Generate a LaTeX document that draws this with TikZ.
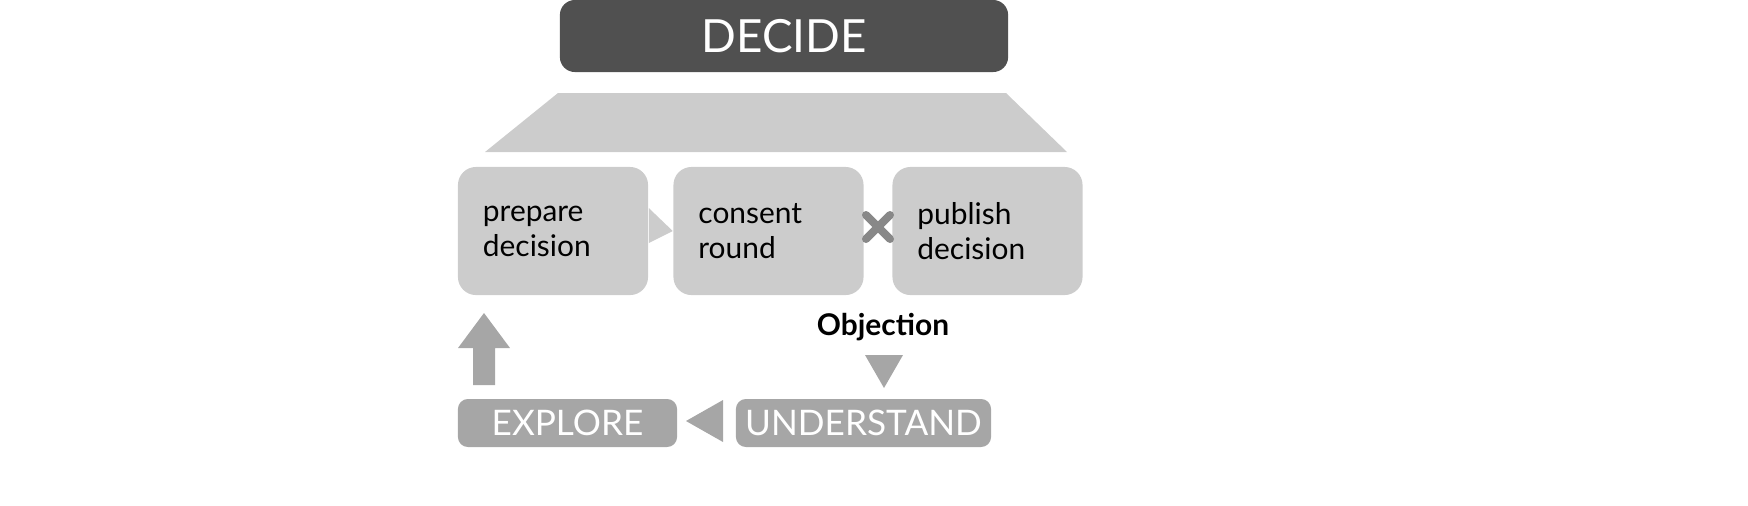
\documentclass[tikz,border=0pt]{standalone}
\usepackage{fontspec}
\setmainfont{Lato}
\usetikzlibrary{positioning}
\definecolor{darkbox}{HTML}{505050}
\definecolor{lightbox}{HTML}{CCCCCC}
\definecolor{midbox}{HTML}{A6A6A6}
\definecolor{crossgray}{HTML}{888888}
\tikzset{
  stepbox/.style={fill=lightbox, rounded corners=0.18cm, minimum width=1.9cm, minimum height=1.28cm,
    align=left, text width=1.4cm, inner sep=0pt, font=\fontsize{8.5}{10}\selectfont},
  phase/.style={fill=midbox, rounded corners=0.1cm, minimum height=0.48cm, inner sep=0pt, text=white,
    font=\fontsize{10}{12}\selectfont},
  pointer/.style={fill=midbox}
}
\begin{document}
\begin{tikzpicture}[x=0.01cm,y=-0.01cm]
\useasboundingbox (0,0) rectangle (1748,505);
% top
\node[fill=darkbox, rounded corners=0.15cm, minimum width=4.48cm, minimum height=0.72cm, inner sep=0pt,
  text=white, font=\fontsize{13}{15}\selectfont] (decide) at (784,36) {DECIDE};
\fill[lightbox] (558,93) -- (1006,93) -- (1067,152) -- (485,152) -- cycle;
% steps
\node[stepbox] (prepare) at (553,231) {prepare\\decision};
\node[stepbox] (consent) at (768.5,231) {consent\\round};
\node[stepbox] (publish) at (987.5,231) {\raisebox{-3pt}{\parbox{1.4cm}{publish\\decision}}};
\fill[lightbox] (prepare.east |- 0,208) -- (consent.west) -- (prepare.east |- 0,243) -- cycle;
\draw[crossgray, line width=0.08cm, line cap=round] (866,215) -- (890,239) (866,239) -- (890,215);
% bottom
\node[phase, minimum width=2.19cm] (explore) at (567.5,423) {EXPLORE};
\node[phase, minimum width=2.55cm] (understand) at (863.5,423) {UNDERSTAND};
\node[font=\bfseries\fontsize{8.5}{10}\selectfont] (objection) at (883,327) {Objection};
\fill[pointer] (723,400) -- (723,442) -- (686,421) -- cycle;
\fill[pointer] (865,355) -- (903,355) -- (884,388) -- cycle;
\fill[pointer] (473,385) -- (473,348) -- (458,348) -- (484,313) -- (510,348) -- (495,348) -- (495,385) -- cycle;
\end{tikzpicture}
\end{document}
